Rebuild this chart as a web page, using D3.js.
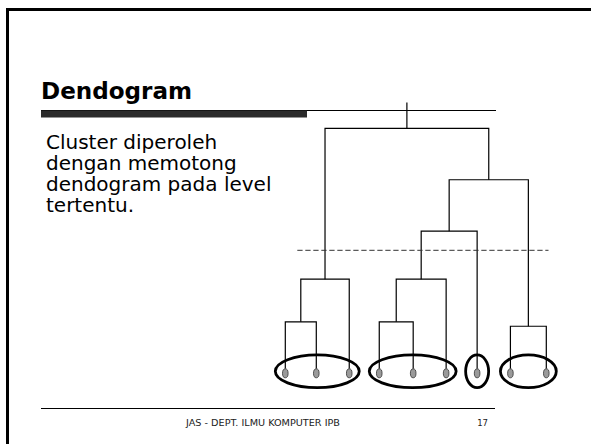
<!DOCTYPE html>
<html><head><meta charset="utf-8">
<script src="https://cdn.jsdelivr.net/npm/d3@7"></script>
<style>html,body{margin:0;padding:0;background:#fff;overflow:hidden}</style>
</head><body><svg id="c" width="591" height="444"></svg>
<script>
// ---- data ----
const titleText = "Dendogram";
const bodyLines = ["Cluster diperoleh", "dengan memotong", "dendogram pada level", "tertentu."];
const footerText = "JAS - DEPT. ILMU KOMPUTER IPB";
const pageNumber = "17";
const leaves = ["x1","x2","x3","x4","x5","x6","x7","x8","x9"];
const leafPos = [0, 0.95, 1.96, 2.88, 3.92, 4.93, 5.88, 6.9, 8];
const mergeIds    = ["A","B","C","D","E","F","G","H"];
const mergeLeft   = ["x1","A","x4","C","D","x8","E","B"];
const mergeRight  = ["x2","x3","x5","x6","x7","x9","F","G"];
const mergeHeight = [2.1, 3.84, 2.1, 3.84, 5.8, 1.92, 7.9, 10];
const rootStemTop = 11.05;
const cutLevel = 5.02;
const clusters = [["x1","x2","x3"],["x4","x5","x6"],["x7"],["x8","x9"]];

// ---- drawing ----
const svg = d3.select("#c");
const x = d3.scaleLinear().domain([0, 8]).range([285.3, 546.3]);
const y = d3.scaleLinear().domain([0, 10]).range([373.3, 128.3]);

// slide frame
svg.append("path").attr("d", "M7.5,444 V9.5 H591").attr("fill","none")
  .attr("stroke","#000").attr("stroke-width",3);

// title
svg.append("text").attr("x",41).attr("y",99).text(titleText)
  .attr("font-family","DejaVu Sans").attr("font-weight","bold").attr("font-size",23)
  .attr("textLength",151).attr("lengthAdjust","spacingAndGlyphs").attr("fill","#000");
svg.append("line").attr("x1",41).attr("x2",496).attr("y1",110.5).attr("y2",110.5)
  .attr("stroke","#000").attr("stroke-width",1);
svg.append("rect").attr("x",41).attr("y",110.5).attr("width",266).attr("height",7).attr("fill","#2b2b2b");

// body text
const body = svg.append("text").attr("font-family","DejaVu Sans").attr("font-size",20).attr("fill","#000");
bodyLines.forEach((t,i)=> body.append("tspan").attr("x",46).attr("y",149 + i*21).text(t));

// footer
svg.append("line").attr("x1",41).attr("x2",495).attr("y1",408.5).attr("y2",408.5)
  .attr("stroke","#000").attr("stroke-width",1);
svg.append("text").attr("x",186).attr("y",426).text(footerText)
  .attr("font-family","DejaVu Sans").attr("font-size",8.5)
  .attr("textLength",154).attr("lengthAdjust","spacingAndGlyphs").attr("fill","#222");
svg.append("text").attr("x",488).attr("y",426).attr("text-anchor","end").text(pageNumber)
  .attr("font-family","DejaVu Sans").attr("font-size",8.5).attr("fill","#222");

// dendrogram node positions
const nodeX = {}, nodeH = {};
leaves.forEach((l,i)=>{ nodeX[l] = x(leafPos[i]); nodeH[l] = 0; });
mergeIds.forEach((m,i)=>{
  nodeX[m] = (nodeX[mergeLeft[i]] + nodeX[mergeRight[i]]) / 2;
  nodeH[m] = mergeHeight[i];
});
const leafTop = y(0) - 4.6;
const childY = c => leaves.includes(c) ? leafTop : y(nodeH[c]);

const g = svg.append("g").attr("stroke","#000").attr("stroke-width",1.2).attr("fill","none");
mergeIds.forEach((m,i)=>{
  const yy = y(mergeHeight[i]);
  const l = mergeLeft[i], r = mergeRight[i];
  g.append("path").attr("d",
    `M${nodeX[l]},${childY(l)} V${yy} H${nodeX[r]} V${childY(r)}`);
});
const root = mergeIds[mergeIds.length-1];
g.append("line").attr("x1",nodeX[root]).attr("x2",nodeX[root])
  .attr("y1",y(nodeH[root])).attr("y2",y(rootStemTop));

// cut line
svg.append("line").attr("x1",297.3).attr("x2",548.5).attr("y1",y(cutLevel)).attr("y2",y(cutLevel))
  .attr("stroke","#333").attr("stroke-width",1).attr("stroke-dasharray","5.3,2.7");

// leaf markers
svg.append("g").selectAll("ellipse").data(leaves).join("ellipse")
  .attr("cx",d=>nodeX[d]).attr("cy",y(0)).attr("rx",2.8).attr("ry",4.5)
  .attr("fill","#9a9a9a").attr("stroke","#333").attr("stroke-width",0.8);

// cluster ellipses
svg.append("g").selectAll("ellipse").data(clusters).join("ellipse")
  .attr("cx",d=>(nodeX[d[0]] + nodeX[d[d.length-1]])/2)
  .attr("cy",y(0)-2)
  .attr("rx",d=>{ const half=(nodeX[d[d.length-1]]-nodeX[d[0]])/2; return half + (half===0?11.5:10); })
  .attr("ry",16.4)
  .attr("fill","none").attr("stroke","#000").attr("stroke-width",2.8);
</script></body></html>
